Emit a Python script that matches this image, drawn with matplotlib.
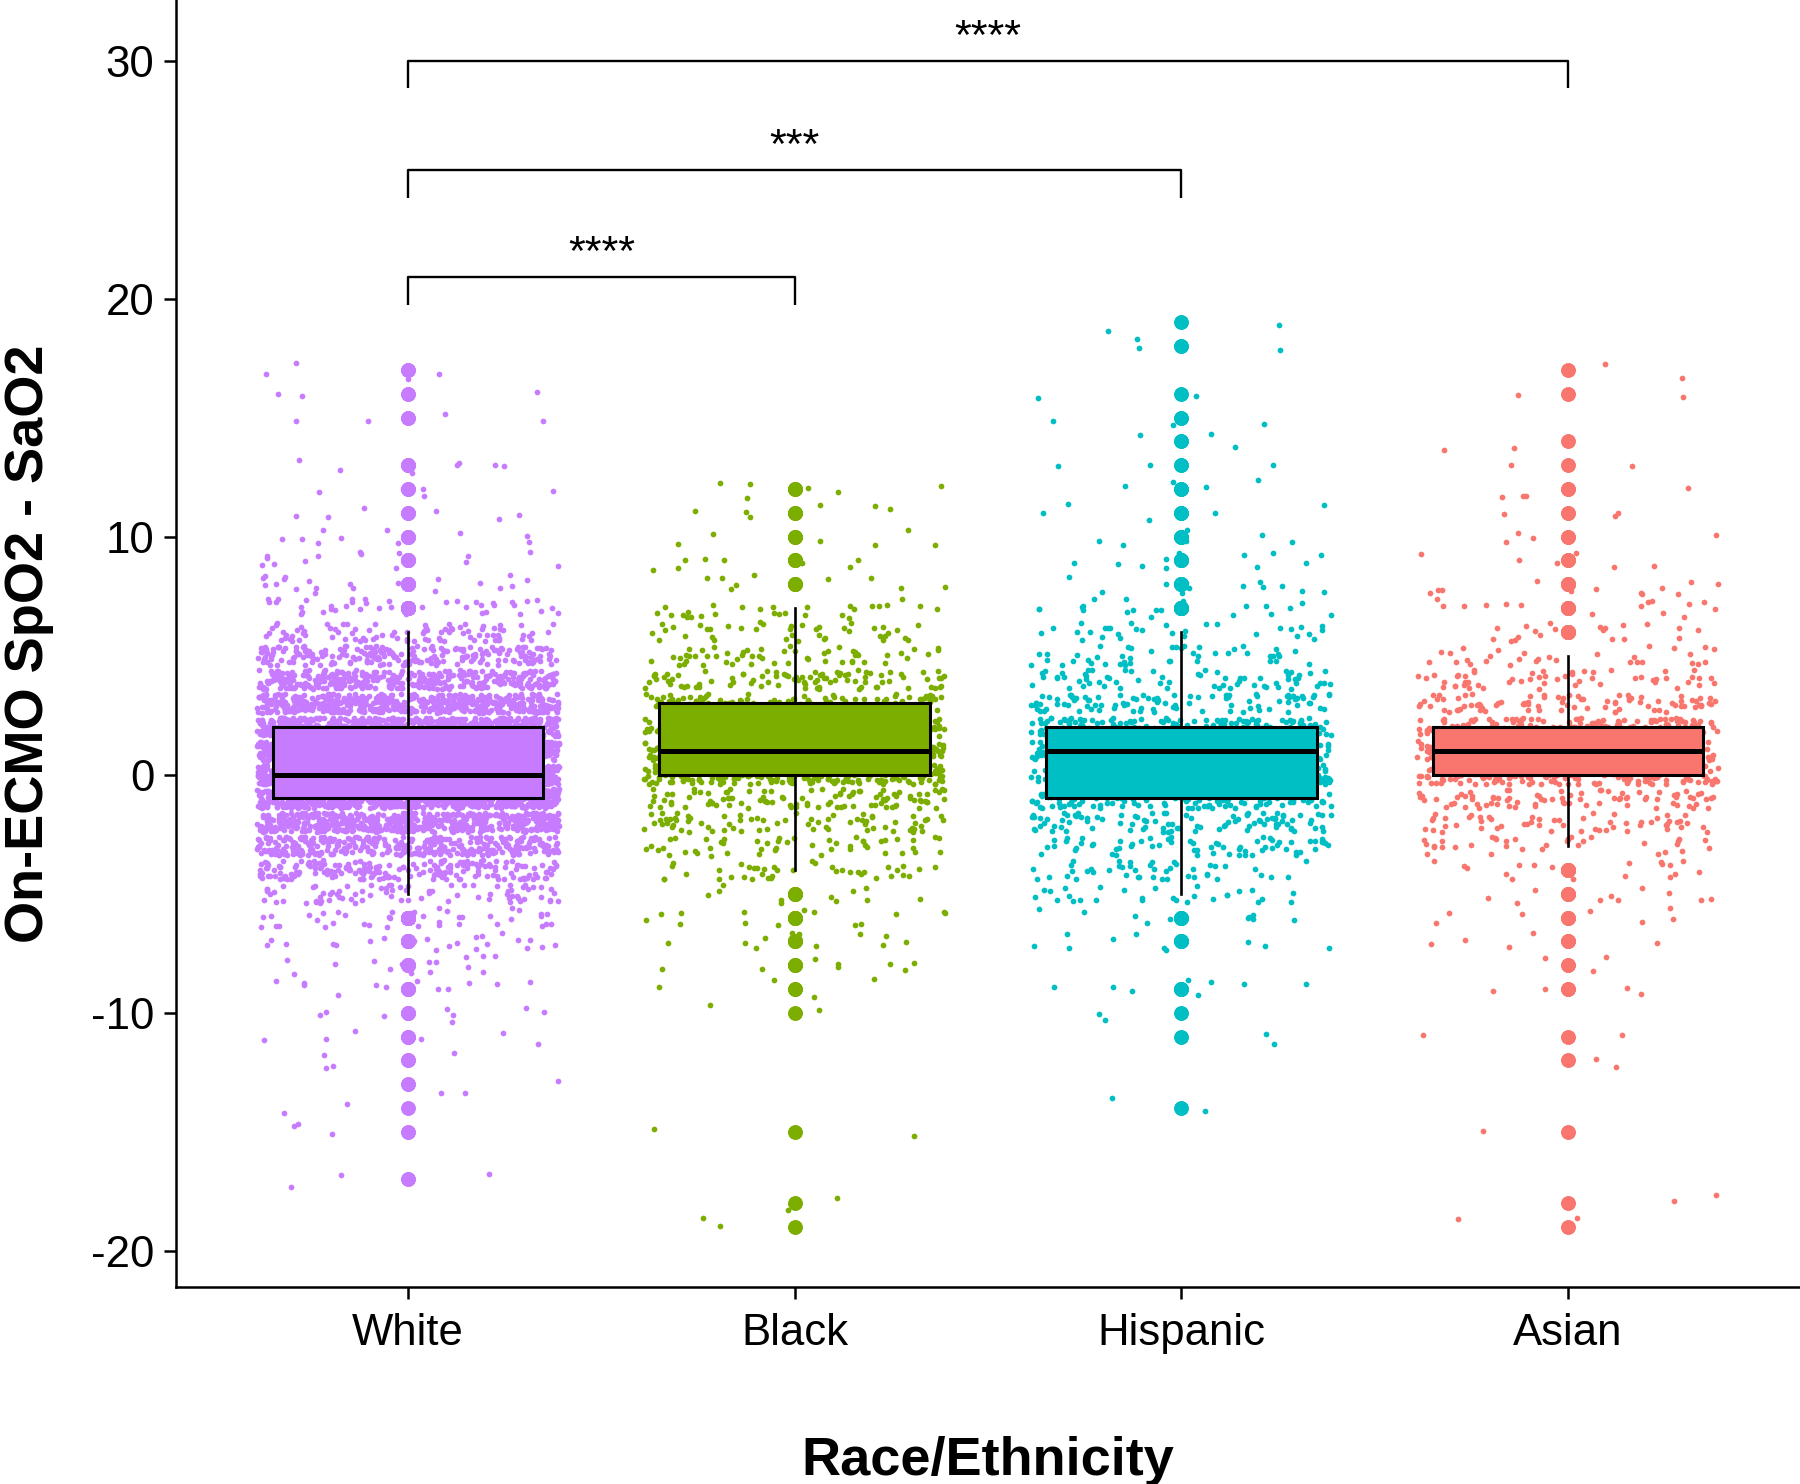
import numpy as np
import matplotlib.pyplot as plt

plt.rcParams['font.family'] = ['Liberation Sans', 'DejaVu Sans']
plt.rcParams['axes.unicode_minus'] = False

groups = ['White', 'Black', 'Hispanic', 'Asian']
colors = ['#C77CFF', '#7CAE00', '#00BFC4', '#F8766D']

white_levels = [17, 16, 15, 13, 12, 11, 10, 9, 8, 7, 6, 5, 4, 3, 2, 1, 0,
                -1, -2, -3, -4, -5, -6, -7, -8, -9, -10, -11, -12, -13, -14, -15, -17]
white_counts = [4, 3, 4, 8, 5, 6, 10, 14, 20, 40, 90, 220, 350, 500, 700, 900, 1100,
                800, 550, 350, 200, 80, 40, 22, 15, 12, 8, 6, 4, 3, 2, 3, 3]

black_levels = [12, 11, 10, 9, 8, 7, 6, 5, 4, 3, 2, 1, 0,
                -1, -2, -3, -4, -5, -6, -7, -8, -9, -10, -15, -18, -19]
black_counts = [6, 6, 6, 8, 10, 28, 40, 55, 90, 130, 170, 200, 260,
                100, 70, 50, 40, 12, 14, 11, 8, 4, 2, 2, 2, 2]

hisp_levels = [19, 18, 16, 15, 14, 13, 12, 11, 10, 9, 8, 7, 6, 5, 4, 3, 2, 1, 0,
               -1, -2, -3, -4, -5, -6, -7, -9, -10, -11, -14]
hisp_counts = [2, 3, 2, 3, 3, 3, 4, 5, 6, 11, 12, 20, 30, 45, 65, 95, 170, 200, 180,
               150, 95, 65, 45, 28, 10, 10, 8, 2, 2, 2]

asian_levels = [17, 16, 14, 13, 12, 11, 10, 9, 8, 7, 6, 5, 4, 3, 2, 1, 0,
                -1, -2, -3, -4, -5, -6, -7, -8, -9, -11, -12, -15, -18, -19]
asian_counts = [2, 2, 2, 2, 4, 3, 4, 6, 12, 15, 20, 30, 55, 85, 180, 230, 200,
                80, 55, 35, 18, 10, 7, 6, 3, 4, 2, 2, 2, 2, 2]

# pairwise comparisons against White: (group a, group b, bracket height, label)
comparisons = [(1, 2, 20.9, '****'), (1, 3, 25.4, '***'), (1, 4, 30.0, '****')]

levels = [white_levels, black_levels, hisp_levels, asian_levels]
counts = [white_counts, black_counts, hisp_counts, asian_counts]

fig = plt.figure(figsize=(18, 14.84), dpi=100)
ax = fig.add_axes([176 / 1800, 1 - 1287 / 1484, 1 - 176 / 1800, 1287 / 1484])

# jitter offsets only (like geom_jitter), the values themselves are the integer levels above
jit = np.random.default_rng(11)

data = []
for k, (lv, ct, col) in enumerate(zip(levels, counts, colors)):
    values = np.repeat(lv, ct)
    data.append(values)
    xs = (k + 1) + jit.uniform(-0.39, 0.39, len(values))
    ys = values + jit.uniform(-0.4, 0.4, len(values))
    ax.scatter(xs, ys, s=17, color=col, linewidths=0, zorder=1)

bp = ax.boxplot(data, positions=[1, 2, 3, 4], widths=0.7, patch_artist=True,
                showcaps=False, whis=1.5, zorder=2,
                medianprops=dict(color='black', linewidth=3.6),
                whiskerprops=dict(color='black', linewidth=1.9),
                boxprops=dict(edgecolor='black', linewidth=2.2),
                flierprops=dict(marker='o', markersize=10.5, markeredgewidth=0))
for patch, fl, col in zip(bp['boxes'], bp['fliers'], colors):
    patch.set_facecolor(col)
    fl.set_markerfacecolor(col)

# significance brackets
for a, b, y, lab in comparisons:
    ax.plot([a, a, b, b], [y - 1.15, y, y, y - 1.15], color='black', lw=1.7,
            solid_capstyle='butt', zorder=3)
    ax.text((a + b) / 2, y + 0.5, lab, ha='center', va='baseline', fontsize=31)

ax.set_xlim(0.4, 4.6)
ax.set_ylim(-21.525, 32.55)
ax.set_xticks([1, 2, 3, 4])
ax.set_xticklabels(groups)
ax.set_yticks([-20, -10, 0, 10, 20, 30])

for side in ['top', 'right']:
    ax.spines[side].set_visible(False)
for side in ['left', 'bottom']:
    ax.spines[side].set_linewidth(1.8)

ax.tick_params(axis='both', direction='out', length=8.5, width=1.8,
               labelsize=31.5, colors='black')
ax.tick_params(axis='x', pad=10)
ax.tick_params(axis='y', pad=7)

ax.set_xlabel('Race/Ethnicity', fontsize=39, fontweight='bold', va='baseline')
ax.xaxis.set_label_coords(0.5, -0.146)
ax.set_ylabel('On-ECMO SpO2 - SaO2', fontsize=39, fontweight='bold', va='baseline',
              rotation_mode='anchor')
ax.yaxis.set_label_coords(-0.0816, 0.5)

fig.savefig('out.png', dpi=100)
